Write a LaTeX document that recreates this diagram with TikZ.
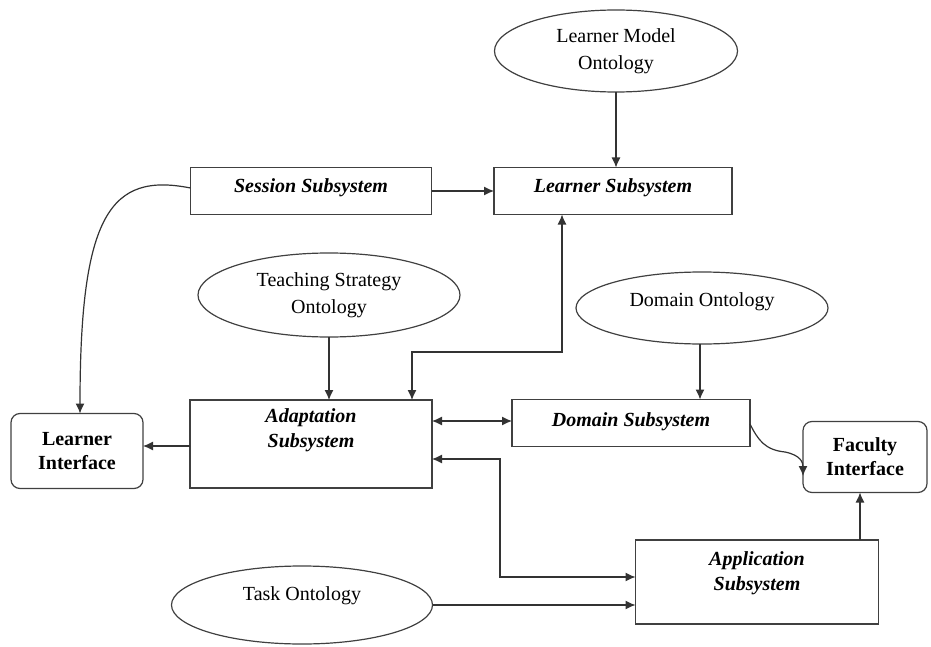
\documentclass[tikz,border=0pt]{standalone}
\usepackage{fontspec}
\setmainfont{Liberation Serif}
\usetikzlibrary{shapes.geometric,arrows.meta}
\begin{document}
\begin{tikzpicture}[x=1pt,y=-1pt,
  line width=1.2pt,
  every node/.style={inner sep=0pt, outer sep=0pt},
  sub/.style={draw=black!75, rectangle, font=\fontsize{20}{25}\selectfont\bfseries\itshape, align=center},
  iface/.style={draw=black!75, rectangle, rounded corners=9pt, font=\fontsize{20}{24}\selectfont\bfseries, align=center},
  onto/.style={draw=black!75, ellipse, font=\fontsize{20}{27}\selectfont, align=center},
  conn/.style={draw=black!80, -{Latex[length=10pt,width=9pt]}},
  conn2/.style={draw=black!80, {Latex[length=10pt,width=9pt]}-{Latex[length=10pt,width=9pt]}}
]
\useasboundingbox (0,0) rectangle (931,647);
\node[onto, minimum width=243pt, minimum height=82pt] (lmo) at (616,51) {Learner Model\\Ontology};
\node[sub, minimum width=241pt, minimum height=47pt, text depth=10pt] (ses) at (311,191) {Session Subsystem};
\node[sub, minimum width=238pt, minimum height=47pt, text depth=10pt] (lrn) at (613,191) {Learner Subsystem};
\node[onto, minimum width=262pt, minimum height=84pt] (tso) at (329,295) {Teaching Strategy\\Ontology};
\node[onto, minimum width=252pt, minimum height=72pt, text depth=16pt] (dmo) at (702,308) {Domain Ontology};
\node[iface, minimum width=132pt, minimum height=75pt] (li) at (77,451) {Learner\\Interface};
\node[sub, minimum width=242pt, minimum height=88pt, text depth=31pt] (ada) at (311,444) {Adaptation\\Subsystem};
\node[sub, minimum width=238pt, minimum height=47pt, text depth=7pt] (dom) at (631,423) {Domain Subsystem};
\node[iface, minimum width=124pt, minimum height=71pt] (fi) at (865,457) {Faculty\\Interface};
\node[sub, minimum width=243pt, minimum height=84pt, text depth=21pt] (app) at (757,582) {Application\\Subsystem};
\node[onto, minimum width=261pt, minimum height=78pt, text depth=22pt] (tko) at (302,605) {Task Ontology};

\coordinate (lmoB) at (lmo.south);
\draw[conn] (lmoB) -- (lmoB |- lrn.north);
\draw[conn] (ses.east) -- (lrn.west);
\draw[conn] (ses.west |- 0,188) .. controls (110,172) and (80,215) .. (li.north -| 80,0);
\coordinate (j1) at (562,352);
\coordinate (j2) at (412,352);
\draw[conn2] (j1 |- lrn.south) -- (j1) -- (j2) -- (j2 |- ada.north);
\draw[conn] (tso.south) -- (tso.south |- ada.north);
\draw[conn] (ada.west |- 0,446) -- (li.east |- 0,446);
\draw[conn2] (ada.east |- 0,421) -- (dom.west |- 0,421);
\draw[conn] (dmo.south -| 700,0) -- (dom.north -| 700,0);
\draw[conn] (dom.east |- 0,424) .. controls (758,440) and (765,450) .. (785,452) .. controls (800,455) and (803,462) .. (fi.west |- 0,476);
\coordinate (j3) at (500,459);
\coordinate (j4) at (500,577);
\draw[conn2] (ada.east |- j3) -- (j3) -- (j4) -- (app.west |- j4);
\draw[conn] (tko.east) -- (app.west |- tko.east);
\draw[conn] (app.north -| 860,0) -- (fi.south -| 860,0);
\end{tikzpicture}
\end{document}
